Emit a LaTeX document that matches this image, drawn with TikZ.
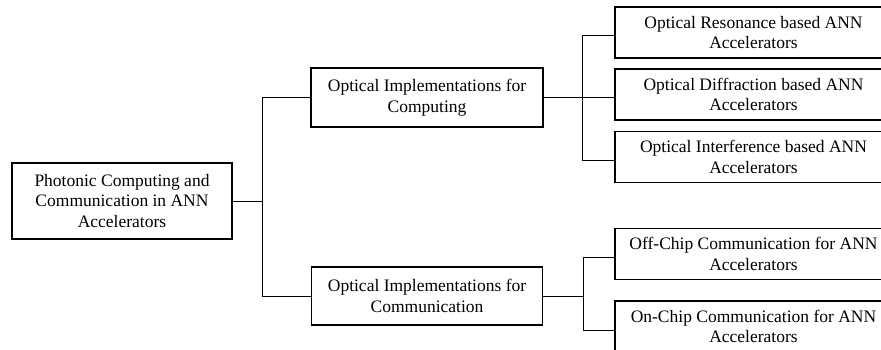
\documentclass[tikz,border=0pt]{standalone}
\usepackage{fontspec}
\setmainfont{Liberation Serif}

\tikzset{
  box/.style={draw, line width=1.6pt, align=center, inner sep=0pt,
    font=\fontsize{17.5}{20.5}\selectfont},
  link/.style={line width=1pt},
}

\begin{document}
\begin{tikzpicture}[x=1pt, y=-1pt]
  \path[use as bounding box, clip] (0,0) rectangle (881,349);

  % root and the two middle boxes
  \node[box, minimum width=220pt, minimum height=76pt] (root) at (122,201)
    {Photonic Computing and\\Communication in ANN\\Accelerators};
  \node[box, minimum width=232pt, minimum height=59pt] (comp) at (427,97.5)
    {Optical Implementations for\\Computing};
  \node[box, minimum width=231pt, minimum height=58pt] (comm) at (427,296)
    {Optical Implementations for\\Communication};

  % leaves under computing
  \foreach \txt/\yy [count=\i] in {Optical Resonance based ANN/32.5,
      Optical Diffraction based ANN/94.5, Optical Interference based ANN/157} {
    \node[box, minimum width=277pt, minimum height=51pt] (cp\i) at (753.5,\yy)
      {\txt\\Accelerators};
  }

  % leaves under communication
  \foreach \txt/\yy [count=\i] in {Off-Chip Communication for ANN/254,
      On-Chip Communication for ANN/326.5} {
    \node[box, minimum width=277pt, minimum height=51pt] (cm\i) at (753.5,\yy)
      {\txt\\Accelerators};
  }

  % connectors (leaf lines sit a little below the box middle)
  \draw[link] (root.east) -- ++(30,0) coordinate (j0);
  \draw[link] (comp.west) -| (j0);
  \draw[link] (comm.west) -| (j0);

  \draw[link] (comp.east) -- ++(39,0) coordinate (j1);
  \foreach \i in {1,2,3}
    \draw[link] ([yshift=-3pt]cp\i.west) -| (j1);

  \draw[link] (comm.east) -- ++(40,0) coordinate (j2);
  \foreach \i in {1,2}
    \draw[link] ([yshift=-3.5pt]cm\i.west) -| (j2);
\end{tikzpicture}
\end{document}
